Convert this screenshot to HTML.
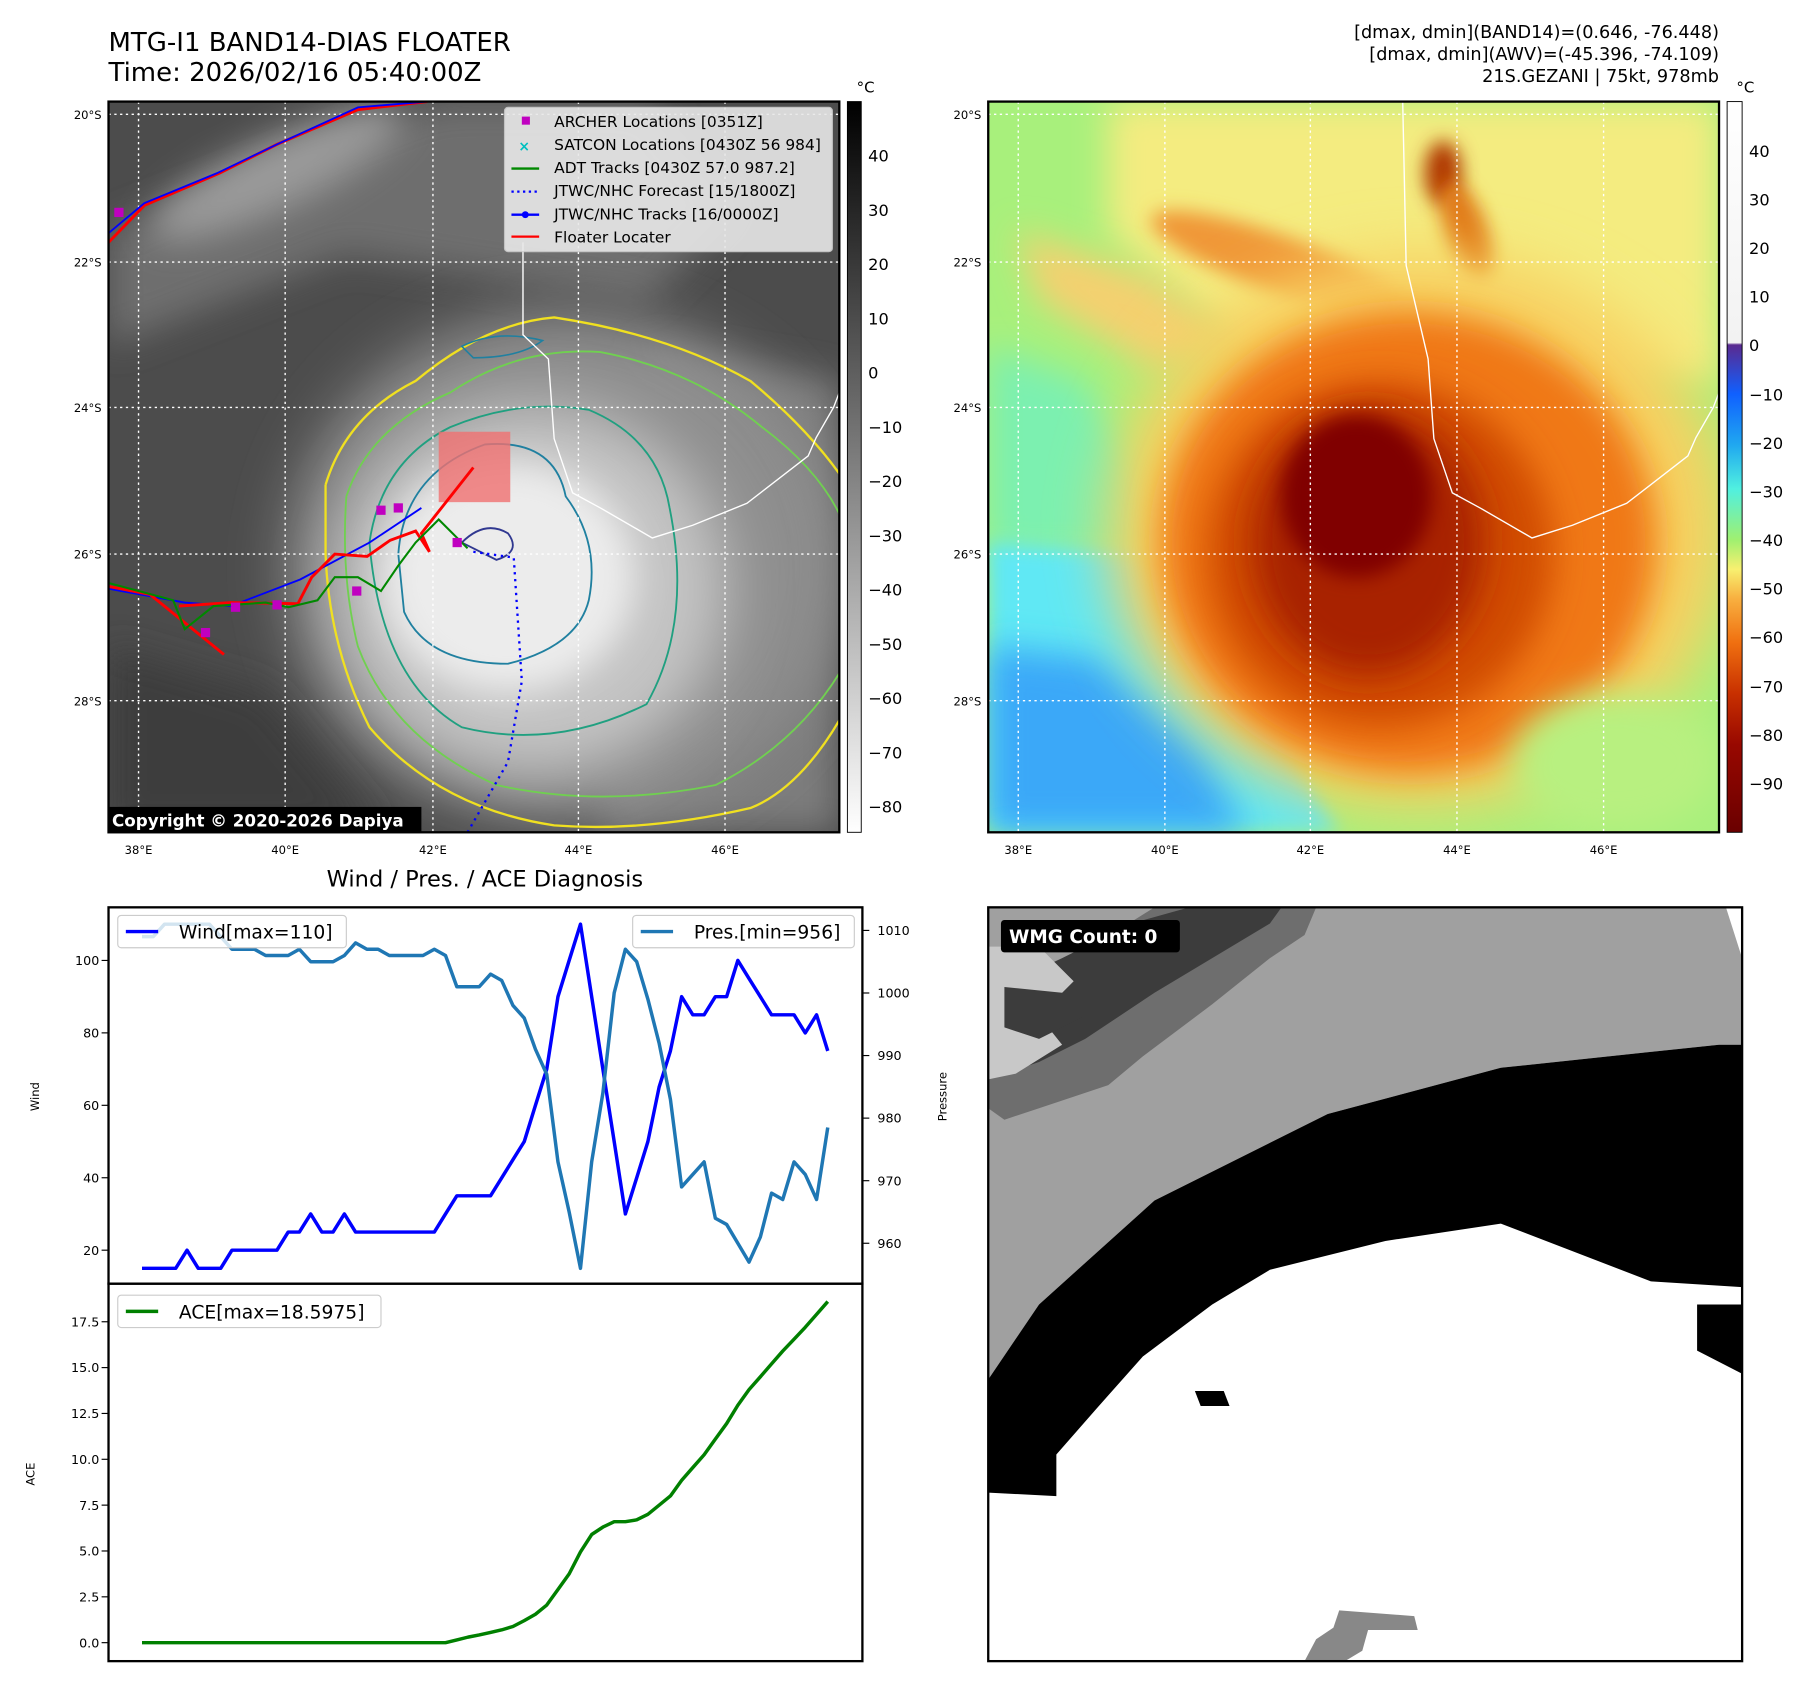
<!DOCTYPE html>
<html><head><meta charset="utf-8">
<style>
html,body{margin:0;padding:0;background:#fff;}
svg{display:block;}
text{font-family:"DejaVu Sans","Liberation Sans",sans-serif;}
</style></head>
<body>
<svg id="root" width="1801" height="1690" viewBox="0 0 1560 1464" preserveAspectRatio="none" xmlns="http://www.w3.org/2000/svg">
<defs>
  <filter id="b8" x="-50%" y="-50%" width="200%" height="200%"><feGaussianBlur stdDeviation="8"/></filter>
  <filter id="b15" x="-50%" y="-50%" width="200%" height="200%"><feGaussianBlur stdDeviation="15"/></filter>
  <filter id="b25" x="-50%" y="-50%" width="200%" height="200%"><feGaussianBlur stdDeviation="25"/></filter>
  <clipPath id="cl"><rect x="94" y="88" width="633" height="633"/></clipPath>
  <clipPath id="cr"><rect x="856" y="88" width="633" height="633"/></clipPath>
  <clipPath id="cb"><rect x="856" y="786" width="653" height="653"/></clipPath>
  <linearGradient id="gcb1" x1="0" y1="0" x2="0" y2="1"><stop offset="0" stop-color="#000"/><stop offset="1" stop-color="#fff"/></linearGradient>
  <linearGradient id="gcb2" x1="0" y1="0" x2="0" y2="1">
    <stop offset="0" stop-color="#ffffff"/><stop offset="0.33" stop-color="#f2f2f2"/>
    <stop offset="0.333" stop-color="#5a2a90"/><stop offset="0.40" stop-color="#1060ff"/>
    <stop offset="0.47" stop-color="#20a8f0"/><stop offset="0.53" stop-color="#50f0e0"/>
    <stop offset="0.60" stop-color="#a0f070"/><stop offset="0.64" stop-color="#f8f070"/>
    <stop offset="0.68" stop-color="#f8b040"/><stop offset="0.74" stop-color="#f07010"/>
    <stop offset="0.81" stop-color="#c83000"/><stop offset="0.88" stop-color="#980800"/>
    <stop offset="1" stop-color="#6a0000"/>
  </linearGradient>
</defs>

<!-- titles -->
<text x="94" y="44" font-size="22.5">MTG-I1 BAND14-DIAS FLOATER</text>
<text x="94" y="70" font-size="22.5">Time: 2026/02/16 05:40:00Z</text>
<g font-size="15.3" text-anchor="end">
  <text x="1489" y="33">[dmax, dmin](BAND14)=(0.646, -76.448)</text>
  <text x="1489" y="52">[dmax, dmin](AWV)=(-45.396, -74.109)</text>
  <text x="1489" y="71">21S.GEZANI | 75kt, 978mb</text>
</g>

<!-- LEFT MAP -->
<g clip-path="url(#cl)">
  <rect x="94" y="88" width="633" height="633" fill="#4c4c4c"/>
  <path d="M94 200 L380 88 L560 88 L640 180 L560 260 L300 220 L94 300Z" fill="#6e6e6e" filter="url(#b15)"/>
  <ellipse cx="240" cy="150" rx="120" ry="30" transform="rotate(-25 240 150)" fill="#9a9a9a" filter="url(#b15)"/>
  <path d="M560 300 L727 330 L727 721 L520 721Z" fill="#7c7c7c" filter="url(#b15)"/>
  <ellipse cx="490" cy="490" rx="240" ry="220" fill="#8e8e8e" filter="url(#b25)"/>
  <ellipse cx="460" cy="510" rx="170" ry="160" fill="#c4c4c4" filter="url(#b25)"/>
  <ellipse cx="440" cy="500" rx="110" ry="100" fill="#ececec" filter="url(#b15)"/>
  <path d="M94 560 L230 600 L330 721 L94 721Z" fill="#3e3e3e" filter="url(#b15)"/>
  <!-- contours -->
  <path d="M282 420 Q300 360 360 330 Q420 280 480 275 Q580 290 650 330 Q710 380 740 430 L740 600 Q700 680 650 700 Q560 721 480 715 Q380 700 320 630 Q285 560 282 480 L282 420" fill="none" stroke="#f0e020" stroke-width="2"/>
  <path d="M300 430 Q320 370 390 340 Q450 300 520 305 Q600 320 660 370 Q740 430 740 500 L740 560 Q700 640 620 680 Q520 700 430 680 Q340 640 310 560 Q295 500 300 430" fill="none" stroke="#70d050" stroke-width="1.6"/>
  <path d="M320 470 Q330 400 390 370 Q450 345 510 355 Q570 380 580 440 Q600 540 560 610 Q480 650 400 630 Q330 590 320 470Z" fill="none" stroke="#20a080" stroke-width="1.6"/>
  <path d="M345 480 Q350 410 420 385 Q480 380 490 430 Q520 470 510 520 Q500 560 440 575 Q370 575 350 530Z" fill="none" stroke="#2080a0" stroke-width="1.6"/>
  <path d="M400 300 Q430 285 470 295 Q450 310 410 310Z" fill="none" stroke="#2080a0" stroke-width="1.4"/>
  <path d="M400 470 Q420 450 440 462 Q452 478 430 485Z" fill="none" stroke="#303890" stroke-width="1.6"/>
  <!-- coastline -->
  <path d="M453 210 L453 290 L475 311 L480 380 L496 427 L520 440 L565 466 L600 455 L647 436 L700 395 L707 379 L722 353 L727 340" fill="none" stroke="#fff" stroke-width="1.2"/>
  <!-- grid -->
  <g stroke="#fff" stroke-width="1.2" stroke-dasharray="2 3">
    <line x1="94" x2="727" y1="99" y2="99"/><line x1="94" x2="727" y1="227" y2="227"/><line x1="94" x2="727" y1="353" y2="353"/><line x1="94" x2="727" y1="480" y2="480"/><line x1="94" x2="727" y1="607" y2="607"/>
    <line y1="88" y2="721" x1="120" x2="120"/><line y1="88" y2="721" x1="247" x2="247"/><line y1="88" y2="721" x1="375" x2="375"/><line y1="88" y2="721" x1="501" x2="501"/><line y1="88" y2="721" x1="628" x2="628"/>
  </g>
  <rect x="380" y="374" width="62" height="61" fill="#f07070" opacity="0.8"/>
  <!-- tracks -->
  <polyline points="94,210 125,178 190,150 240,125 310,95 370,88" fill="none" stroke="#f00" stroke-width="2.5"/>
  <polyline points="94,202 125,176 188,150 240,125 310,93 370,88" fill="none" stroke="#00f" stroke-width="1.6"/>
  <polyline points="94,510 160,522 200,525 260,502 320,470 365,440" fill="none" stroke="#00f" stroke-width="1.6"/>
  <polyline points="94,508 130,515 194,567" fill="none" stroke="#f00" stroke-width="2.5"/>
  <polyline points="155,525 200,522 258,523 270,500 290,480 318,482 338,468 360,460 372,478 365,462 410,405" fill="none" stroke="#f00" stroke-width="2.5"/>
  <polyline points="94,505 150,520 160,545 185,525 230,522 250,526 275,520 290,500 310,500 330,512 345,490 360,470 380,450 405,475" fill="none" stroke="#080" stroke-width="1.8"/>
  <polyline points="410,478 445,483 452,590 440,660 405,721" fill="none" stroke="#00f" stroke-width="2" stroke-dasharray="2 4"/>
  <g fill="#c000c0"><rect x="326" y="438" width="8" height="8"/><rect x="341" y="436" width="8" height="8"/><rect x="392" y="466" width="8" height="8"/><rect x="305" y="508" width="8" height="8"/><rect x="174" y="544" width="8" height="8"/><rect x="99" y="180" width="8" height="8"/><rect x="200" y="522" width="8" height="8"/><rect x="236" y="520" width="8" height="8"/></g>
  <rect x="94" y="699" width="271" height="22" fill="#000"/>
  <text x="97" y="716" font-size="14.5" font-weight="bold" fill="#fff">Copyright © 2020-2026 Dapiya</text>
</g>
<rect x="94" y="88" width="633" height="633" fill="none" stroke="#000" stroke-width="2"/>
<g>
  <rect x="437" y="93" width="284" height="125" rx="3" fill="#e8e8e8" opacity="0.9" stroke="#ccc"/>
  <g font-size="13.4">
    <rect x="452" y="101" width="7" height="7" fill="#c000c0"/><text x="480" y="110">ARCHER Locations [0351Z]</text>
    <text x="449" y="131" fill="#00c0c0" font-size="12" font-weight="bold">×</text><text x="480" y="130">SATCON Locations [0430Z 56 984]</text>
    <line x1="443" x2="467" y1="146" y2="146" stroke="#080" stroke-width="2"/><text x="480" y="150">ADT Tracks [0430Z 57.0 987.2]</text>
    <line x1="443" x2="467" y1="166" y2="166" stroke="#00f" stroke-width="2" stroke-dasharray="2 3"/><text x="480" y="170">JTWC/NHC Forecast [15/1800Z]</text>
    <line x1="443" x2="467" y1="186" y2="186" stroke="#00f" stroke-width="2"/><circle cx="455" cy="186" r="3" fill="#00f"/><text x="480" y="190">JTWC/NHC Tracks [16/0000Z]</text>
    <line x1="443" x2="467" y1="205" y2="205" stroke="#f00" stroke-width="2"/><text x="480" y="210">Floater Locater</text>
  </g>
</g>
<rect x="734" y="88" width="12" height="633" fill="url(#gcb1)" stroke="#000" stroke-width="0.8"/>
<text x="742" y="80" font-size="13">°C</text>
<g font-size="14">
  <text x="752" y="140">40</text><text x="752" y="187">30</text><text x="752" y="234">20</text><text x="752" y="281">10</text><text x="752" y="328">0</text>
  <text x="752" y="375">−10</text><text x="752" y="422">−20</text><text x="752" y="469">−30</text><text x="752" y="516">−40</text><text x="752" y="563">−50</text><text x="752" y="610">−60</text><text x="752" y="657">−70</text><text x="752" y="704">−80</text>
</g>

<!-- RIGHT MAP -->
<g clip-path="url(#cr)">
  <rect x="856" y="88" width="633" height="633" fill="#a8f07c"/>
  <path d="M960 88 L1489 88 L1489 330 L1100 330 L960 200Z" fill="#f4ec80" filter="url(#b15)"/>
  <path d="M880 200 L1000 240 L1080 300 L1000 320 L900 260Z" fill="#f4d070" filter="url(#b15)"/>
  <ellipse cx="1110" cy="230" rx="120" ry="25" transform="rotate(20 1110 230)" fill="#f09838" filter="url(#b8)"/>
  <ellipse cx="1250" cy="150" rx="16" ry="28" fill="#b03800" filter="url(#b8)"/>
  <ellipse cx="1270" cy="200" rx="18" ry="45" transform="rotate(-20 1270 200)" fill="#e07818" filter="url(#b8)"/>
  <path d="M856 300 L940 330 L990 420 L1020 480 L856 480Z" fill="#7cf0b0" filter="url(#b15)"/>
  <path d="M856 470 L990 480 L1040 560 L1110 640 L1160 721 L856 721Z" fill="#60e8f4" filter="url(#b8)"/>
  <path d="M856 560 L950 570 L1040 650 L1080 721 L856 721Z" fill="#3aa8f8" filter="url(#b15)"/>
  <ellipse cx="1230" cy="460" rx="270" ry="240" fill="#f8d060" filter="url(#b25)"/>
  <ellipse cx="1220" cy="470" rx="215" ry="200" fill="#f07818" filter="url(#b15)"/>
  <ellipse cx="1195" cy="480" rx="150" ry="150" fill="#d04c00" filter="url(#b15)"/>
  <ellipse cx="1185" cy="470" rx="100" ry="115" fill="#a82000" filter="url(#b15)"/>
  <ellipse cx="1175" cy="430" rx="65" ry="70" fill="#800000" filter="url(#b8)"/>
  <ellipse cx="1400" cy="660" rx="90" ry="60" fill="#b8f080" filter="url(#b15)"/>
  <path d="M1215 88 L1218 230 L1237 311 L1242 380 L1258 427 L1282 440 L1327 466 L1362 455 L1409 436 L1462 395 L1469 379 L1484 353 L1489 340" fill="none" stroke="#fff" stroke-width="1.2"/>
  <g stroke="#fff" stroke-width="1.2" stroke-dasharray="2 3">
    <line x1="856" x2="1489" y1="99" y2="99"/><line x1="856" x2="1489" y1="227" y2="227"/><line x1="856" x2="1489" y1="353" y2="353"/><line x1="856" x2="1489" y1="480" y2="480"/><line x1="856" x2="1489" y1="607" y2="607"/>
    <line y1="88" y2="721" x1="882" x2="882"/><line y1="88" y2="721" x1="1009" x2="1009"/><line y1="88" y2="721" x1="1135" x2="1135"/><line y1="88" y2="721" x1="1262" x2="1262"/><line y1="88" y2="721" x1="1389" x2="1389"/>
  </g>
</g>
<rect x="856" y="88" width="633" height="633" fill="none" stroke="#000" stroke-width="2"/>
<rect x="1496" y="88" width="13" height="633" fill="url(#gcb2)" stroke="#000" stroke-width="0.8"/>
<text x="1504" y="80" font-size="13">°C</text>
<g font-size="14">
  <text x="1515" y="136">40</text><text x="1515" y="178">30</text><text x="1515" y="220">20</text><text x="1515" y="262">10</text><text x="1515" y="304">0</text>
  <text x="1515" y="347">−10</text><text x="1515" y="389">−20</text><text x="1515" y="431">−30</text><text x="1515" y="473">−40</text><text x="1515" y="515">−50</text><text x="1515" y="557">−60</text><text x="1515" y="600">−70</text><text x="1515" y="642">−80</text><text x="1515" y="684">−90</text>
</g>

<g font-size="10">
  <g text-anchor="end">
    <text x="88" y="103">20°S</text><text x="88" y="231">22°S</text><text x="88" y="357">24°S</text><text x="88" y="484">26°S</text><text x="88" y="611">28°S</text>
    <text x="850" y="103">20°S</text><text x="850" y="231">22°S</text><text x="850" y="357">24°S</text><text x="850" y="484">26°S</text><text x="850" y="611">28°S</text>
  </g>
  <g text-anchor="middle">
    <text x="120" y="740">38°E</text><text x="247" y="740">40°E</text><text x="375" y="740">42°E</text><text x="501" y="740">44°E</text><text x="628" y="740">46°E</text>
    <text x="882" y="740">38°E</text><text x="1009" y="740">40°E</text><text x="1135" y="740">42°E</text><text x="1262" y="740">44°E</text><text x="1389" y="740">46°E</text>
  </g>
</g>

<!-- WMG panel -->
<g clip-path="url(#cb)">
  <rect x="856" y="786" width="653" height="653" fill="#fff"/>
  <path d="M856 786 L1495 786 L1509 830 L1509 905 L1489 905 L1300 925 L1150 965 L1000 1040 L900 1130 L856 1195Z" fill="#a0a0a0"/>
  <path d="M856 1195 L900 1130 L1000 1040 L1150 965 L1300 925 L1489 905 L1509 905 L1509 1115 L1430 1110 L1300 1060 L1200 1075 L1100 1100 L1050 1130 L990 1175 L950 1220 L915 1260 L915 1296 L856 1293Z" fill="#000"/>
  <path d="M1470 1130 L1509 1130 L1509 1190 L1470 1170Z" fill="#000"/>
  <path d="M1035 1205 L1060 1205 L1065 1218 L1040 1218Z" fill="#000"/>
  <path d="M1000 786 L1140 786 L1130 810 L1100 830 L1050 870 L990 915 L960 940 L900 960 L870 970 L856 960 L856 870 L930 830Z" fill="#6e6e6e"/>
  <path d="M1030 786 L1110 786 L1100 800 L1050 830 L1000 860 L940 900 L900 920 L870 930 L856 920 L856 860 L920 830 L980 800Z" fill="#3c3c3c"/>
  <path d="M856 820 L900 820 L930 850 L900 880 L920 905 L880 930 L856 935Z" fill="#c8c8c8"/>
  <path d="M870 855 L920 860 L940 880 L900 900 L870 890Z" fill="#3c3c3c"/>
  <path d="M1130 1439 L1140 1420 L1155 1410 L1160 1395 L1225 1400 L1228 1412 L1185 1412 L1180 1430 L1165 1439Z" fill="#888"/>
</g>
<rect x="856" y="786" width="653" height="653" fill="none" stroke="#000" stroke-width="2"/>
<rect x="867" y="797" width="155" height="28" rx="3" fill="#000"/>
<text x="874" y="817" font-size="16" font-weight="bold" fill="#fff">WMG Count: 0</text>

<text x="420" y="768" font-size="19.5" text-anchor="middle">Wind / Pres. / ACE Diagnosis</text>
<g id="chart"></g>

<script>
const wind = [15,15,15,15,20,15,15,15,20,20,20,20,20,25,25,30,25,25,30,25,25,25,25,25,25,25,25,30,35,35,35,35,40,45,50,60,70,90,100,110,90,70,50,30,40,50,65,75,90,85,85,90,90,100,95,90,85,85,85,80,85,75];
const pres = [1009,1009,1011,1011,1011,1011,1011,1009,1007,1007,1007,1006,1006,1006,1007,1005,1005,1005,1006,1008,1007,1007,1006,1006,1006,1006,1007,1006,1001,1001,1001,1003,1002,998,996,991,987,973,965,956,973,984,1000,1007,1005,999,992,983,969,971,973,964,963,960,957,961,968,967,973,971,967,978.5];
const ace = [0,0,0,0,0,0,0,0,0,0,0,0,0,0,0,0,0,0,0,0,0,0,0,0,0,0,0,0,0.15,0.3,0.42,0.56,0.7,0.88,1.2,1.55,2.05,2.9,3.75,4.95,5.9,6.3,6.6,6.6,6.7,7.0,7.5,8.0,8.85,9.55,10.25,11.1,11.95,12.95,13.8,14.5,15.2,15.9,16.55,17.2,17.9,18.6];
const windTicks = [20,40,60,80,100];
const presTicks = [960,970,980,990,1000,1010];
const aceTicks = [0,2.5,5,7.5,10,12.5,15,17.5];

const NS = 'http://www.w3.org/2000/svg';
const g = document.getElementById('chart');
function mk(tag, attrs, parent){ const e=document.createElementNS(NS,tag); for(const k in attrs) e.setAttribute(k,attrs[k]); (parent||g).appendChild(e); return e; }
const x = i => 123 + i*(717-123)/(wind.length-1);
const yW = v => 1083 + (v-20)*(832-1083)/80;
const yP = v => 1077 + (v-960)*(806-1077)/50;
const yA = v => 1423 + v*(1145-1423)/17.5;

let e;
e = mk('rect',{x:94,y:786,width:653,height:326,fill:'none',stroke:'#000','stroke-width':2});


e = mk('rect',{x:94,y:1112,width:653,height:327,fill:'none',stroke:'#000','stroke-width':2});



windTicks.forEach(v=>{
  mk('line',{x1:88,x2:94,y1:yW(v),y2:yW(v),stroke:'#000'});
  e = mk('text',{x:86,y:yW(v)+4,'font-size':11,'text-anchor':'end'}); e.textContent=v;
  
  
});
presTicks.forEach(v=>{
  mk('line',{x1:747,x2:753,y1:yP(v),y2:yP(v),stroke:'#000'});
  e = mk('text',{x:760,y:yP(v)+4,'font-size':11}); e.textContent=v;
  
  
});
aceTicks.forEach(v=>{
  mk('line',{x1:88,x2:94,y1:yA(v),y2:yA(v),stroke:'#000'});
  e = mk('text',{x:86,y:yA(v)+4,'font-size':11,'text-anchor':'end'}); e.textContent=v.toFixed(1);
  
  
});
e = mk('text',{x:34,y:950,'font-size':10,'text-anchor':'middle',transform:'rotate(-90 34 950)'}); e.textContent='Wind';


e = mk('text',{x:820,y:950,'font-size':10,'text-anchor':'middle',transform:'rotate(-90 820 950)'}); e.textContent='Pressure';


e = mk('text',{x:30,y:1277,'font-size':10,'text-anchor':'middle',transform:'rotate(-90 30 1277)'}); e.textContent='ACE';



function line(arr, yf, color, name){
  const pts = arr.map((v,i)=>x(i).toFixed(1)+','+yf(v).toFixed(1)).join(' ');
  const p = mk('polyline',{points:pts,fill:'none',stroke:color,'stroke-width':3,'stroke-linejoin':'round'});
  
  
}
line(wind,yW,'#0000ff','wind-line');
line(pres,yP,'#1f77b4','pressure-line');
line(ace,yA,'#008000','ace-line');

function legend(x0,y0,w,color,label,name){
  const lg = mk('g',{});
  
  
  mk('rect',{x:x0,y:y0,width:w,height:28,rx:3,fill:'#fff','fill-opacity':0.8,stroke:'#ccc'},lg);
  mk('line',{x1:x0+7,x2:x0+35,y1:y0+14,y2:y0+14,stroke:color,'stroke-width':3},lg);
  const t = mk('text',{x:x0+53,y:y0+20,'font-size':16.2},lg); t.textContent=label;
}
legend(102,793,198,'#0000ff','Wind[max=110]','wind-legend');
legend(548,793,192,'#1f77b4','Pres.[min=956]','pressure-legend');
legend(102,1122,228,'#008000','ACE[max=18.5975]','ace-legend');
</script>
</svg>
</body></html>
